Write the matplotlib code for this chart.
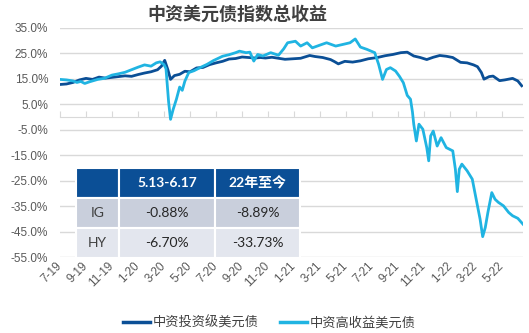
import matplotlib.pyplot as plt

# month offsets counted from July 2019
ig_months = [0, 0.5, 1.0, 1.5, 2.0, 2.5, 3.0, 3.5, 4.0, 4.5, 5.0, 5.5, 6.0, 6.5,
             7.0, 7.5, 7.8, 8.05, 8.3, 8.5, 8.8, 9.2, 9.6, 10.0, 10.5, 11.0, 11.5,
             12.0, 12.5, 13.0, 13.5, 14.0, 14.5, 15.0, 15.4, 15.8, 16.3, 16.8, 17.3,
             17.9, 18.5, 19.2, 19.6, 20.2, 20.8, 21.1, 21.4, 21.9, 22.5, 23.1, 23.7,
             24.4, 25.0, 25.6, 26.2, 26.7, 27.2, 27.7, 28.2, 28.7, 29.2, 29.7, 30.2,
             30.8, 31.3, 31.8, 32.1, 32.4, 32.6, 33.0, 33.3, 33.8, 34.2, 34.8, 35.2,
             35.5]
ig_values = [12.8, 13.0, 13.6, 14.6, 15.2, 14.8, 15.7, 15.3, 15.6, 15.9, 16.2, 16.0,
             16.7, 17.3, 17.8, 18.6, 20.0, 22.3, 18.5, 14.8, 16.3, 16.8, 18.0, 17.8,
             19.3, 19.5, 20.6, 21.3, 21.9, 22.8, 23.0, 23.6, 23.4, 23.2, 23.4, 23.2,
             23.5, 23.1, 22.7, 22.9, 23.1, 24.2, 23.8, 23.4, 22.6, 21.8, 20.9, 21.9,
             21.6, 22.1, 22.9, 23.4, 24.1, 24.6, 25.3, 25.5, 24.0, 23.4, 22.6, 23.5,
             24.2, 23.9, 23.4, 21.5, 21.3, 20.5, 19.8, 17.5, 14.9, 15.9, 16.1, 14.3,
             14.6, 15.2, 14.2, 12.3]

hy_months = [0, 0.5, 1.0, 1.3, 1.6, 1.9, 2.3, 2.9, 3.4, 4.0, 4.5, 5.0, 5.5, 6.0,
             6.5, 7.0, 7.4, 7.7, 8.0, 8.15, 8.35, 8.5, 8.7, 8.95, 9.2, 9.4, 9.6, 9.9,
             10.3, 10.8, 11.3, 11.8, 12.5, 13.0, 13.5, 13.8, 14.3, 14.6, 14.9, 15.2,
             15.6, 16.2, 16.8, 17.2, 17.5, 18.1, 18.5, 19.0, 19.4, 20.0, 20.5, 21.2,
             21.8, 22.3, 22.7, 23.1, 23.6, 24.2, 24.5, 24.8, 25.1, 25.4, 25.8, 26.1,
             26.4, 26.7, 26.95, 27.1, 27.2, 27.4, 27.6, 27.9, 28.2, 28.35, 28.5, 28.7,
             29.0, 29.3, 29.7, 30.2, 30.4, 30.55, 30.7, 30.9, 31.3, 31.7, 32.0, 32.3,
             32.5, 32.7, 32.9, 33.2, 33.45, 33.7, 34.1, 34.5, 34.8, 35.2, 35.6]
hy_values = [14.8, 14.6, 14.2, 13.6, 14.0, 13.2, 13.9, 14.8, 15.2, 16.5, 17.0, 17.6,
             18.6, 19.6, 20.5, 20.0, 21.3, 21.7, 20.6, 19.0, 6.0, -0.9, 3.0, 7.0,
             11.8, 10.5, 14.1, 17.5, 18.2, 19.5, 20.7, 22.2, 23.9, 24.5, 25.3, 25.9,
             25.3, 25.5, 22.0, 24.6, 24.0, 25.3, 24.3, 26.8, 29.2, 29.8, 27.9, 29.2,
             27.2, 28.3, 29.2, 27.9, 28.6, 29.2, 30.7, 27.5, 26.6, 25.3, 20.7, 14.8,
             18.7, 19.4, 18.1, 16.0, 13.5, 8.5, 7.0, 2.0, -2.8, -9.4, -2.8, -4.8,
             -12.0, -17.2, -7.4, -5.5, -11.4, -8.1, -12.0, -13.3, -20.5, -29.3, -20.5,
             -18.5, -21.1, -24.4, -32.3, -40.1, -47.0, -43.4, -37.5, -29.7, -32.3,
             -33.5, -34.9, -37.5, -38.8, -39.8, -42.1]

tick_months = list(range(0, 35, 2))
tick_labels = ['7-19', '9-19', '11-19', '1-20', '3-20', '5-20', '7-20', '9-20',
               '11-20', '1-21', '3-21', '5-21', '7-21', '9-21', '11-21', '1-22',
               '3-22', '5-22']
y_ticks = list(range(-55, 36, 10))

series_names = ['中资投资级美元债', '中资高收益美元债']

table_header = ['', '5.13-6.17', '22年至今']
table_rows = [['IG', '-0.88%', '-8.89%'],
              ['HY', '-6.70%', '-33.73%']]

IG_COLOR = '#0B4F96'
HY_COLOR = '#20B4E2'
GRID = '#D9D9D9'
TEXT = '#595959'

plt.rcParams['font.family'] = ['Liberation Sans', 'Noto Sans CJK SC']

W, H = 529, 333
fig = plt.figure(figsize=(W / 100, H / 100), dpi=100)
ax = fig.add_axes([60 / W, 1 - 257 / H, 463 / W, 229 / H])

ax.plot(ig_months, ig_values, color=IG_COLOR, lw=2.0, label=series_names[0], zorder=3)
ax.plot(hy_months, hy_values, color=HY_COLOR, lw=2.0, label=series_names[1], zorder=3)

ax.set_ylim(-55, 35)
ax.set_yticks(y_ticks, labels=[f'{v:.1f}%' for v in y_ticks])
ax.set_xlim(0, 35.6)
ax.grid(axis='y', color=GRID, lw=1.0)
ax.set_axisbelow(True)
for side in ('left', 'right', 'top'):
    ax.spines[side].set_visible(False)
ax.spines['bottom'].set_position(('data', 0))
ax.spines['bottom'].set_color(GRID)
ax.set_xticks(tick_months)
ax.tick_params(axis='x', direction='in', length=4, color=GRID, labelbottom=False)
ax.tick_params(axis='y', length=0, labelsize=8.5, labelcolor=TEXT, pad=8.5)

# date labels sit under the plot, not at the zero line
sec = ax.secondary_xaxis('bottom')
sec.set_xticks(tick_months, labels=tick_labels)
sec.spines['bottom'].set_visible(False)
sec.tick_params(length=0, labelsize=8.5, labelcolor=TEXT, pad=5)
for lbl in sec.get_xticklabels():
    lbl.set_rotation(45)
    lbl.set_ha('right')
    lbl.set_va('center')
    lbl.set_rotation_mode('anchor')

fig.text(237 / W, 1 - 14 / H, '中资美元债指数总收益', ha='center', va='center',
         fontsize=13, weight='bold', color='#404040', family='Noto Sans CJK SC')

fig.legend(loc='center', bbox_to_anchor=(269 / W, 10.5 / H), ncol=2, frameon=False,
           handlelength=2.1, handletextpad=0.15, columnspacing=1.6,
           labelcolor='#404040', prop={'family': 'Noto Sans CJK SC', 'size': 9.5})
for h in fig.legends[0].get_lines():
    h.set_linewidth(2.5)

# summary table over the lower left of the chart
tax = fig.add_axes([76 / W, 1 - 258 / H, 224 / W, 90 / H])
tax.axis('off')
tbl = tax.table(cellText=[table_header] + table_rows, cellLoc='center',
                colWidths=[43 / 224, 96 / 224, 85 / 224], bbox=[0, 0, 1, 1])
tbl.auto_set_font_size(False)
row_colors = ['#0B4F96', '#C9CFDC', '#E3E6EE']
for (r, c), cell in tbl.get_celld().items():
    cell.set_facecolor(row_colors[r])
    cell.set_edgecolor('white')
    cell.set_linewidth(1.5)
    txt = cell.get_text()
    txt.set_fontsize(10)
    txt.set_family(['Lato', 'Noto Sans CJK SC'])
    if r == 0:
        txt.set_color('white')
        txt.set_weight('bold')
    else:
        txt.set_color('#262626')
        if c == 0:
            txt.set_color('#404040')

fig.savefig('out.png', dpi=100)
